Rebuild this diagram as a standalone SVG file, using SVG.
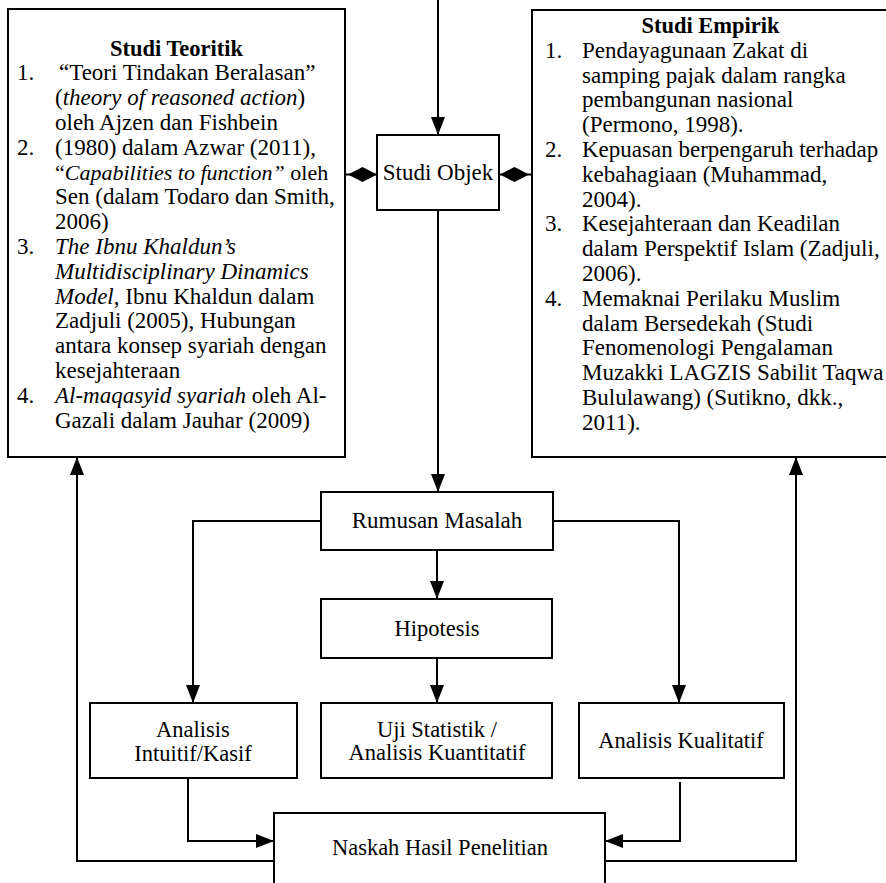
<svg xmlns="http://www.w3.org/2000/svg" width="886" height="883" viewBox="0 0 886 883">
  <style>
    .box { fill: #ffffff; stroke: #000000; stroke-width: 2; }
    .conn { fill: none; stroke: #000000; stroke-width: 2; }
    text { font-family: "Liberation Serif", "Times New Roman", serif; fill: #000000; }
    .body { font-size: 23px; }
    .small { font-size: 22.5px; }
    .title { font-size: 22.5px; font-weight: bold; }
    .it { font-style: italic; }
    .mid { text-anchor: middle; }
  </style>
  <defs>
    <marker id="arrow" markerUnits="userSpaceOnUse" markerWidth="18" markerHeight="14" refX="18" refY="7" orient="auto" overflow="visible">
      <path d="M0,0 L18,7 L0,14 z" fill="#000000"/>
    </marker>
    <marker id="diamond" markerUnits="userSpaceOnUse" markerWidth="29" markerHeight="15" refX="29" refY="7.5" orient="auto" overflow="visible">
      <path d="M0,7.5 L14.5,0 L29,7.5 L14.5,15 z" fill="#000000"/>
    </marker>
  </defs>

  <!-- connectors -->
  <g id="connectors">
    <path class="conn" d="M438,-2 V135" marker-end="url(#arrow)"/>
    <path class="conn" d="M438,210 V492" marker-end="url(#arrow)"/>
    <path class="conn" d="M437,550 V599" marker-end="url(#arrow)"/>
    <path class="conn" d="M437,658 V703" marker-end="url(#arrow)"/>
    <path class="conn" d="M321,521 H193 V703" marker-end="url(#arrow)"/>
    <path class="conn" d="M553,521 H679 V703" marker-end="url(#arrow)"/>
    <path class="conn" d="M188,778 V841 H274" marker-end="url(#arrow)"/>
    <path class="conn" d="M680,782 V841 H605" marker-end="url(#arrow)"/>
    <path class="conn" d="M274,861 H77 V457" marker-end="url(#arrow)"/>
    <path class="conn" d="M605,861 H796 V457" marker-end="url(#arrow)"/>
    <path class="conn" d="M346,174.5 H377" stroke-width="0" marker-end="url(#diamond)"/>
    <path class="conn" d="M531,174.5 H500" stroke-width="0" marker-end="url(#diamond)"/>
  </g>

  <!-- theoretical studies -->
  <g id="studi-teoritik">
    <rect class="box" x="8" y="9" width="337" height="448"/>
    <text class="title mid" x="176.5" y="55.5">Studi Teoritik</text>
    <text class="body">
      <tspan x="17" y="80.3">1.</tspan>
      <tspan x="17" y="154.7">2.</tspan>
      <tspan x="17" y="253.9">3.</tspan>
      <tspan x="17" y="402.7">4.</tspan>
    </text>
    <text class="body">
      <tspan x="59" y="80.3">“Teori Tindakan Beralasan”</tspan>
      <tspan x="55" y="105.1">(<tspan class="it">theory of reasoned action</tspan>)</tspan>
      <tspan x="55" y="129.9">oleh Ajzen dan Fishbein</tspan>
      <tspan x="55" y="154.7">(1980) dalam Azwar (2011),</tspan>
      <tspan x="55" y="179.5" font-size="22">“<tspan class="it">Capabilities to function”</tspan> oleh</tspan>
      <tspan x="55" y="204.3">Sen (dalam Todaro dan Smith,</tspan>
      <tspan x="55" y="229.1">2006)</tspan>
      <tspan x="55" y="253.9" class="it">The Ibnu Khaldun’s</tspan>
      <tspan x="55" y="278.7" class="it">Multidisciplinary Dinamics</tspan>
      <tspan x="55" y="303.5"><tspan class="it">Model</tspan>, Ibnu Khaldun dalam</tspan>
      <tspan x="55" y="328.3">Zadjuli (2005), Hubungan</tspan>
      <tspan x="55" y="353.1">antara konsep syariah dengan</tspan>
      <tspan x="55" y="377.9">kesejahteraan</tspan>
      <tspan x="55" y="402.7"><tspan class="it">Al-maqasyid syariah</tspan> oleh Al-</tspan>
      <tspan x="55" y="427.5">Gazali dalam Jauhar (2009)</tspan>
    </text>
  </g>

  <!-- empirical studies -->
  <g id="studi-empirik">
    <rect class="box" x="532" y="10" width="360" height="447"/>
    <text class="title mid" x="710.5" y="33">Studi Empirik</text>
    <text class="body">
      <tspan x="545" y="57.8">1.</tspan>
      <tspan x="545" y="157">2.</tspan>
      <tspan x="545" y="231.4">3.</tspan>
      <tspan x="545" y="305.8">4.</tspan>
    </text>
    <text class="body">
      <tspan x="582" y="57.8">Pendayagunaan Zakat di</tspan>
      <tspan x="582" y="82.6">samping pajak dalam rangka</tspan>
      <tspan x="582" y="107.4">pembangunan nasional</tspan>
      <tspan x="582" y="132.2">(Permono, 1998).</tspan>
      <tspan x="582" y="157">Kepuasan berpengaruh terhadap</tspan>
      <tspan x="582" y="181.8">kebahagiaan (Muhammad,</tspan>
      <tspan x="582" y="206.6">2004).</tspan>
      <tspan x="582" y="231.4">Kesejahteraan dan Keadilan</tspan>
      <tspan x="582" y="256.2">dalam Perspektif Islam (Zadjuli,</tspan>
      <tspan x="582" y="281">2006).</tspan>
      <tspan x="582" y="305.8">Memaknai Perilaku Muslim</tspan>
      <tspan x="582" y="330.6">dalam Bersedekah (Studi</tspan>
      <tspan x="582" y="355.4">Fenomenologi Pengalaman</tspan>
      <tspan x="582" y="380.2">Muzakki LAGZIS Sabilit Taqwa</tspan>
      <tspan x="582" y="405">Bululawang) (Sutikno, dkk.,</tspan>
      <tspan x="582" y="429.8">2011).</tspan>
    </text>
  </g>

  <g id="studi-objek">
    <rect class="box" x="377" y="135" width="122" height="75"/>
    <text class="body mid" x="438" y="180">Studi Objek</text>
  </g>

  <g id="rumusan-masalah">
    <rect class="box" x="321" y="492" width="232" height="58"/>
    <text class="body mid" x="437" y="528">Rumusan Masalah</text>
  </g>

  <g id="hipotesis">
    <rect class="box" x="321" y="599" width="231" height="59"/>
    <text class="small mid" x="437" y="636">Hipotesis</text>
  </g>

  <g id="analisis-intuitif">
    <rect class="box" x="90" y="703" width="207" height="75"/>
    <text class="small mid"><tspan x="193" y="737">Analisis</tspan><tspan x="193" y="761">Intuitif/Kasif</tspan></text>
  </g>

  <g id="uji-statistik">
    <rect class="box" x="321" y="703" width="231" height="75"/>
    <text class="small mid"><tspan x="437" y="737">Uji Statistik /</tspan><tspan x="437" y="760">Analisis Kuantitatif</tspan></text>
  </g>

  <g id="analisis-kualitatif">
    <rect class="box" x="579" y="703" width="205" height="75"/>
    <text class="small mid" x="681" y="748">Analisis Kualitatif</text>
  </g>

  <g id="naskah-hasil">
    <rect class="box" x="274" y="813" width="331" height="80"/>
    <text class="small mid" x="440" y="855">Naskah Hasil Penelitian</text>
  </g>
</svg>
